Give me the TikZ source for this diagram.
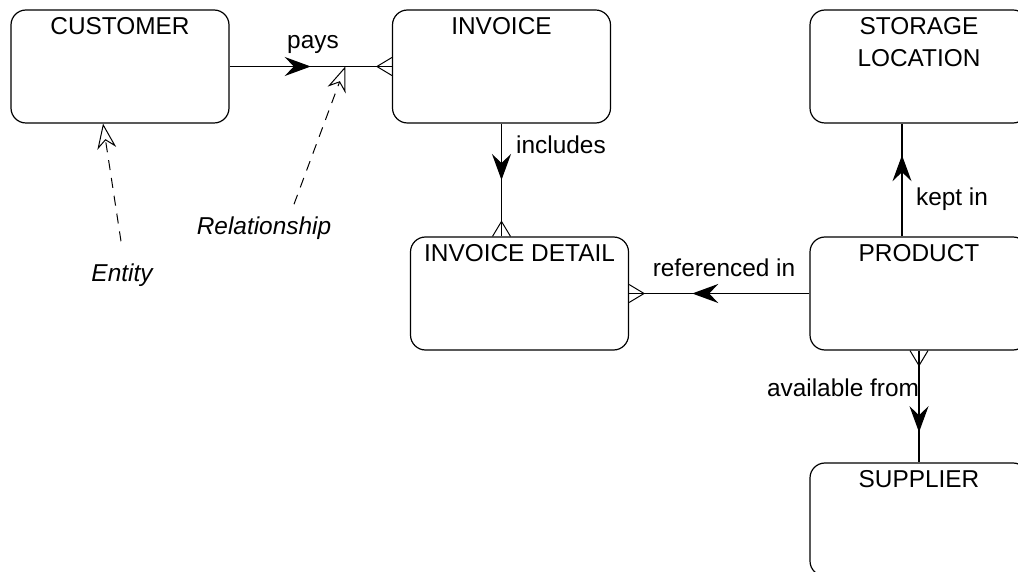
\documentclass[tikz,border=0pt]{standalone}
\usepackage{fontspec}
\setmainfont{Liberation Sans}
\usetikzlibrary{positioning,calc,arrows.meta,decorations.markings}

\begin{document}
\begin{tikzpicture}[x=0.5pt,y=-0.5pt,
    entity/.style={draw, line width=0.6pt, rounded corners=7.5pt,
      minimum width=109pt, minimum height=56.5pt, inner sep=0pt},
    title/.style={anchor=north, inner sep=0pt, yshift=-4pt, align=center,
      font=\fontsize{12.2}{16}\selectfont},
    txt/.style={inner sep=0pt, font=\fontsize{12.2}{14}\selectfont},
    note/.style={txt, font=\fontsize{12.2}{14}\selectfont\itshape},
    rel/.style={line width=0.6pt, postaction={decorate},
      decoration={markings, mark=at position #1 with
        {\arrow{Stealth[length=13pt,width=9.5pt,inset=4.5pt]}}}},
    foot/.style={line width=0.5pt},
    hint/.style={line width=0.5pt, dash pattern=on 5pt off 4pt,
      -{Stealth[open,length=12.5pt,width=9.5pt,inset=4pt]}}]
  \useasboundingbox (0,0) rectangle (1018,572);

  % entities
  \node[entity, label={[title]north:CUSTOMER}] (cust) at (120,66.5) {};
  \node[entity, label={[title]north:INVOICE}] (inv) at (501.5,66.5) {};
  \node[entity, label={[title]north:STORAGE\\LOCATION}] (stor) at (919,66.5) {};
  \node[entity, label={[title]north:INVOICE DETAIL}] (det) at (519.5,293.5) {};
  \node[entity, label={[title]north:PRODUCT}] (prod) at (919,293.5) {};
  \node[entity, label={[title]north:SUPPLIER}] (supp) at (919,519.5) {};

  % relationship names
  \node[txt] (pays) at (313,44) {pays};
  \node[txt] (incl) at (561,145) {includes};
  \node[txt] (refd) at (724,268) {referenced in};
  \node[txt] (kept) at (952,199) {kept in};
  \node[txt] (avail) at (843,388) {available from};
  \node[note] (relat) at (264,228) {Relationship};
  \node[note] (ent) at (122,275) {Entity};

  \coordinate (incltop) at (inv.south |- det.north);
  \coordinate (keptbot) at ($(prod.north)+(-17,0)$);
  \coordinate (keptend) at (keptbot |- stor.south);
  \coordinate (paytip) at ($(cust.east)!0.713!(inv.west)$);
  \coordinate (enttip) at ($(cust.south)+(-17,0)$);

  % connectors
  \draw[rel=0.5] (cust.east) -- (inv.west);
  \draw[rel=0.5] (inv.south) -- (incltop);
  \draw[rel=0.65] (prod.west) -- (det.east);
  \draw[rel=0.72] (keptbot) -- (keptend);
  \draw[rel=0.73] (prod.south) -- (supp.north);

  % crow's feet
  \draw[foot] ($(inv.west)+(0,-9)$) -- ($(inv.west)+(-15,0)$) -- ($(inv.west)+(0,9)$);
  \draw[foot] ($(incltop)+(-9,0)$) -- ($(incltop)+(0,-15)$) -- ($(incltop)+(9,0)$);
  \draw[foot] ($(det.east)+(0,-9)$) -- ($(det.east)+(15,0)$) -- ($(det.east)+(0,9)$);
  \draw[foot] ($(prod.south)+(-9,0)$) -- ($(prod.south)+(0,15)$) -- ($(prod.south)+(9,0)$);

  % explanations
  \draw[hint] ($(relat.north)+(30,-12)$) -- (paytip);
  \draw[hint] ($(ent.north)+(-1,-22)$) -- (enttip);
\end{tikzpicture}
\end{document}
